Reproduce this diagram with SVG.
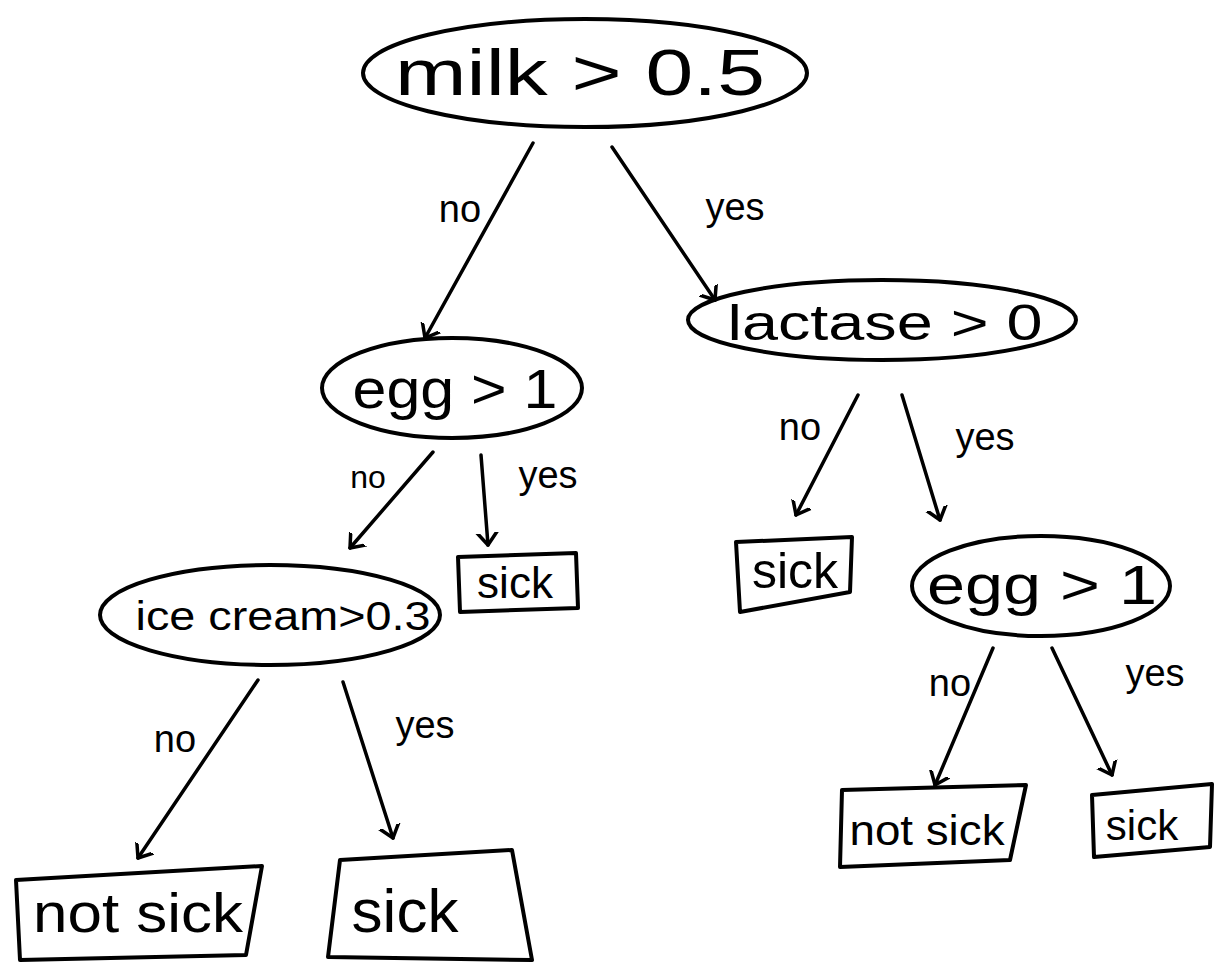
<svg xmlns="http://www.w3.org/2000/svg" width="1217" height="965" viewBox="0 0 1217 965">
<style>
.n{fill:none;stroke:#000;stroke-width:4;stroke-linejoin:round;stroke-linecap:round}
.t{font-family:"Liberation Sans",Arial,sans-serif;fill:#000;text-anchor:middle}
.e{fill:none;stroke:#000;stroke-width:3.5;stroke-linecap:round}
.l{font-family:"Liberation Sans",Arial,sans-serif;fill:#000;font-size:38px;text-anchor:middle}
</style>
<defs>
<marker id="a" viewBox="-12 -12 24 24" markerWidth="24" markerHeight="24" refX="0" refY="0" orient="auto" markerUnits="userSpaceOnUse">
<path d="M-14,-11 L0,0 L-14,11" fill="none" stroke="#000" stroke-width="3.5" stroke-linecap="round" stroke-linejoin="round"/>
</marker>
</defs>
<rect width="1217" height="965" fill="#fff"/>
<g id="connectors">
<line class="e" x1="533" y1="143" x2="425" y2="338" marker-end="url(#a)"/>
<line class="e" x1="612" y1="147" x2="715" y2="300" marker-end="url(#a)"/>
<line class="e" x1="858" y1="395" x2="796" y2="515" marker-end="url(#a)"/>
<line class="e" x1="902" y1="395" x2="940" y2="520" marker-end="url(#a)"/>
<line class="e" x1="433" y1="452" x2="350" y2="548" marker-end="url(#a)"/>
<line class="e" x1="481" y1="455" x2="488" y2="545" marker-end="url(#a)"/>
<line class="e" x1="258" y1="680" x2="138" y2="858" marker-end="url(#a)"/>
<line class="e" x1="343" y1="682" x2="393" y2="838" marker-end="url(#a)"/>
<line class="e" x1="993" y1="648" x2="935" y2="785" marker-end="url(#a)"/>
<line class="e" x1="1052" y1="648" x2="1112" y2="775" marker-end="url(#a)"/>
<text class="l" x="460" y="222">no</text>
<text class="l" x="735" y="220">yes</text>
<text class="l" x="800" y="440">no</text>
<text class="l" x="985" y="450">yes</text>
<text class="l" x="368" y="488" style="font-size:32px">no</text>
<text class="l" x="548" y="488">yes</text>
<text class="l" x="175" y="752">no</text>
<text class="l" x="425" y="738">yes</text>
<text class="l" x="950" y="696">no</text>
<text class="l" x="1155" y="686">yes</text>
</g>
<g id="root"><ellipse class="n" cx="585" cy="73" rx="222" ry="54"/><text class="t" x="580" y="95" font-size="64" textLength="370" lengthAdjust="spacingAndGlyphs">milk &gt; 0.5</text></g>
<g id="egg1"><ellipse class="n" cx="452" cy="388" rx="130" ry="50"/><text class="t" x="455" y="408" font-size="56" textLength="205" lengthAdjust="spacingAndGlyphs">egg &gt; 1</text></g>
<g id="lactase"><ellipse class="n" cx="882" cy="320" rx="194" ry="40"/><text class="t" x="885" y="340" font-size="50" textLength="315" lengthAdjust="spacingAndGlyphs">lactase &gt; 0</text></g>
<g id="sick1"><path class="n" d="M458,557 L576,553 L578,608 L460,612 Z"/><text class="t" x="515" y="598" font-size="44">sick</text></g>
<g id="icecream"><ellipse class="n" cx="270" cy="615" rx="170" ry="50"/><text class="t" x="283" y="630" font-size="40" textLength="295" lengthAdjust="spacingAndGlyphs">ice cream&gt;0.3</text></g>
<g id="sick2"><path class="n" d="M736,542 L852,537 L850,592 L740,612 Z"/><text class="t" x="795" y="588" font-size="50">sick</text></g>
<g id="egg2"><ellipse class="n" cx="1041" cy="586" rx="129" ry="50"/><text class="t" x="1042" y="604" font-size="56" textLength="230" lengthAdjust="spacingAndGlyphs">egg &gt; 1</text></g>
<g id="notsick1"><path class="n" d="M16,880 L262,866 L246,955 L20,960 Z"/><text class="t" x="138" y="932" font-size="55" textLength="210" lengthAdjust="spacingAndGlyphs">not sick</text></g>
<g id="sick3"><path class="n" d="M340,860 L512,850 L532,960 L328,957 Z"/><text class="t" x="405" y="932" font-size="62">sick</text></g>
<g id="notsick2"><path class="n" d="M842,790 L1026,785 L1010,860 L840,867 Z"/><text class="t" x="927" y="845" font-size="42" textLength="155" lengthAdjust="spacingAndGlyphs">not sick</text></g>
<g id="sick4"><path class="n" d="M1092,795 L1212,784 L1210,847 L1094,857 Z"/><text class="t" x="1142" y="840" font-size="42">sick</text></g>
</svg>
